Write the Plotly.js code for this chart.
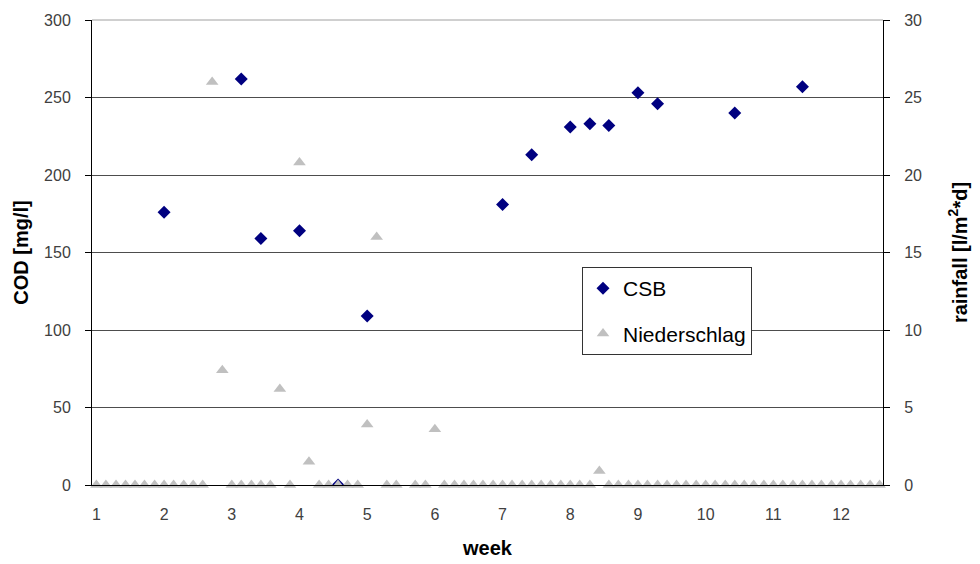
<!DOCTYPE html>
<html>
<head>
<meta charset="utf-8">
<script src="https://cdn.plot.ly/plotly-3.0.1.min.js"></script>
<style>
  html, body { margin: 0; padding: 0; background: #ffffff; }
  #chart { width: 980px; height: 564px; }
</style>
</head>
<body>
<div id="chart"></div>
<script>
// COD (CSB) samples: week of sampling and concentration in mg/l
const csbWeek = [2.00, 3.14, 3.43, 4.00, 4.57, 5.00, 7.00, 7.43, 8.00, 8.29, 8.57, 9.00, 9.29, 10.43, 11.43];
const csbValue = [176, 262, 159, 164, 0, 109, 181, 213, 231, 233, 232, 253, 246, 240, 257];

// Daily rainfall (Niederschlag) in l/m²*d, one reading per day
const rainWeek = [
  1.00, 1.14, 1.29, 1.43, 1.57, 1.71, 1.86,
  2.00, 2.14, 2.29, 2.43, 2.57, 2.71, 2.86,
  3.00, 3.14, 3.29, 3.43, 3.57, 3.71, 3.86,
  4.00, 4.14, 4.29, 4.43, 4.57, 4.71, 4.86,
  5.00, 5.14, 5.29, 5.43, 5.71, 5.86,
  6.00, 6.14, 6.29, 6.43, 6.57, 6.71, 6.86,
  7.00, 7.14, 7.29, 7.43, 7.57, 7.71, 7.86,
  8.00, 8.14, 8.29, 8.43, 8.57, 8.71, 8.86,
  9.00, 9.14, 9.29, 9.43, 9.57, 9.71, 9.86,
  10.00, 10.14, 10.29, 10.43, 10.57, 10.71, 10.86,
  11.00, 11.14, 11.29, 11.43, 11.57, 11.71, 11.86,
  12.00, 12.14, 12.29, 12.43, 12.57
];
const rainValue = [
  0, 0, 0, 0, 0, 0, 0,
  0, 0, 0, 0, 0, 26.0, 7.4,
  0, 0, 0, 0, 0, 6.2, 0,
  20.8, 1.5, 0, 0, 0, 0, 0,
  3.9, 16.0, 0, 0, 0, 0,
  3.6, 0, 0, 0, 0, 0, 0,
  0, 0, 0, 0, 0, 0, 0,
  0, 0, 0, 0.9, 0, 0, 0,
  0, 0, 0, 0, 0, 0, 0,
  0, 0, 0, 0, 0, 0, 0,
  0, 0, 0, 0, 0, 0, 0,
  0, 0, 0, 0, 0
];

const weekTicks = [1, 2, 3, 4, 5, 6, 7, 8, 9, 10, 11, 12];

const FONT = 'Arial, "Liberation Sans", sans-serif';
const tickFont = { family: FONT, size: 16, color: '#404040' };
const titleFont = { family: FONT, size: 20, color: '#000000', weight: 700 };

const traces = [
  {
    type: 'scatter',
    mode: 'markers',
    name: 'CSB',
    x: csbWeek,
    y: csbValue,
    xaxis: 'x',
    yaxis: 'y',
    legendgroup: 'csb',
    cliponaxis: true,
    marker: { symbol: 'diamond', size: 10, color: '#000080', line: { width: 0 } },
    hoverinfo: 'x+y'
  },
  {
    type: 'scatter',
    mode: 'markers',
    name: 'Niederschlag',
    x: rainWeek,
    y: rainValue,
    xaxis: 'x',
    yaxis: 'y2',
    legendgroup: 'rain',
    cliponaxis: false,
    marker: { symbol: 'triangle-up', size: 11, color: '#c0c0c0', line: { width: 0 } },
    hoverinfo: 'x+y'
  }
];

const layout = {
  width: 980,
  height: 564,
  margin: { l: 92, r: 97, t: 20, b: 79, pad: 0 },
  paper_bgcolor: '#ffffff',
  plot_bgcolor: '#ffffff',
  font: { family: FONT, color: '#000000' },
  showlegend: true,
  legend: {
    x: 0.6195,
    y: 0.4688,
    xanchor: 'left',
    yanchor: 'top',
    bgcolor: '#ffffff',
    bordercolor: '#333333',
    borderwidth: 1,
    font: { family: FONT, size: 21, color: '#000000' },
    traceorder: 'grouped',
    tracegroupgap: 15
  },
  xaxis: {
    range: [0.935, 12.62],
    tickmode: 'array',
    tickvals: weekTicks,
    ticktext: weekTicks.map(String),
    ticks: '',
    showgrid: false,
    zeroline: false,
    showline: true,
    linecolor: '#000000',
    linewidth: 1,
    tickfont: tickFont,
    ticklabelstandoff: 15,
    title: { text: 'week', font: titleFont, standoff: 18 }
  },
  yaxis: {
    range: [0, 300],
    tickmode: 'linear',
    tick0: 0,
    dtick: 50,
    ticks: 'outside',
    ticklen: 6,
    tickcolor: '#000000',
    showgrid: true,
    gridcolor: '#4d4d4d',
    gridwidth: 1,
    zeroline: false,
    showline: true,
    linecolor: '#000000',
    linewidth: 1,
    tickfont: tickFont,
    ticklabelstandoff: 11,
    title: { text: 'COD [mg/l]', font: titleFont, standoff: 10 }
  },
  yaxis2: {
    overlaying: 'y',
    side: 'right',
    range: [0, 30],
    tickmode: 'linear',
    tick0: 0,
    dtick: 5,
    ticks: 'outside',
    ticklen: 6,
    tickcolor: '#000000',
    showgrid: false,
    zeroline: false,
    showline: true,
    linecolor: '#000000',
    linewidth: 1,
    tickfont: tickFont,
    ticklabelstandoff: 11,
    title: { text: 'rainfall [l/m<sup>2</sup>*d]', font: titleFont, standoff: 31 }
  },
  shapes: [
    {
      type: 'line', xref: 'paper', yref: 'paper',
      x0: 0, x1: 1, y0: 1, y1: 1,
      line: { color: '#a0a0a0', width: 1 },
      layer: 'above'
    }
  ]
};

Plotly.newPlot('chart', traces, layout, { displayModeBar: false, staticPlot: true });
</script>
</body>
</html>
